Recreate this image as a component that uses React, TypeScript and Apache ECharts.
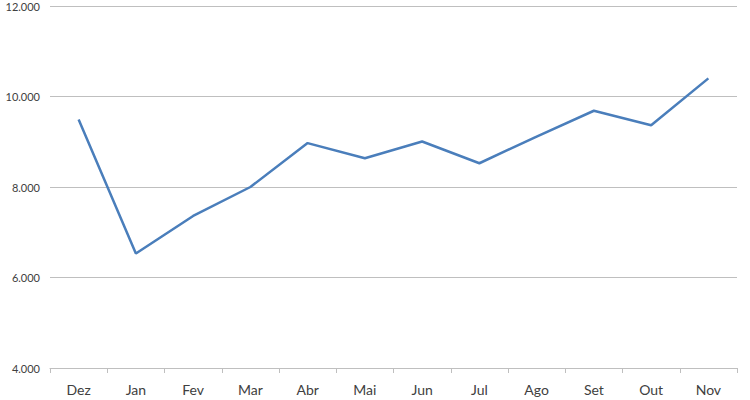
import React, { useEffect, useRef } from "react";
import * as echarts from "echarts";

const categories = ["Dez", "Jan", "Fev", "Mar", "Abr", "Mai", "Jun", "Jul", "Ago", "Set", "Out", "Nov"];
const values = [9490, 6530, 7360, 8000, 8970, 8635, 9005, 8525, 9115, 9685, 9365, 10400];
const yMin = 4000;
const yMax = 12000;
const yStep = 2000;

export default function App() {
  const ref = useRef<HTMLDivElement>(null);
  useEffect(() => {
    if (!ref.current) return;
    const chart = echarts.init(ref.current, undefined, { renderer: "svg" });
    chart.setOption({
      animation: false,
      backgroundColor: "#ffffff",
      grid: { left: 50, right: 13, top: 6, bottom: 32 },
      xAxis: {
        type: "category",
        data: categories,
        boundaryGap: true,
        axisLine: { lineStyle: { color: "#bfbfbf", width: 1 } },
        axisTick: { show: true, length: 5, lineStyle: { color: "#bfbfbf" } },
        axisLabel: {
          color: "#404040",
          fontSize: 14,
          fontFamily: "Lato, 'Open Sans', sans-serif",
          margin: 14,
        },
      },
      yAxis: {
        type: "value",
        min: yMin,
        max: yMax,
        interval: yStep,
        axisLine: { show: false },
        axisTick: { show: false },
        splitLine: { lineStyle: { color: "#bfbfbf", width: 1 } },
        axisLabel: {
          color: "#404040",
          fontSize: 11,
          fontFamily: "Lato, 'Open Sans', sans-serif",
          margin: 10,
          formatter: (v: number) => (v / 1000).toFixed(3),
        },
      },
      series: [
        {
          type: "line",
          data: values,
          showSymbol: false,
          symbol: "none",
          lineStyle: { color: "#4a7ebb", width: 2.5 },
        },
      ],
    });
    return () => chart.dispose();
  }, []);
  return (
    <div
      ref={ref}
      style={{ position: "fixed", left: 0, top: 0, width: 750, height: 400 }}
    />
  );
}
